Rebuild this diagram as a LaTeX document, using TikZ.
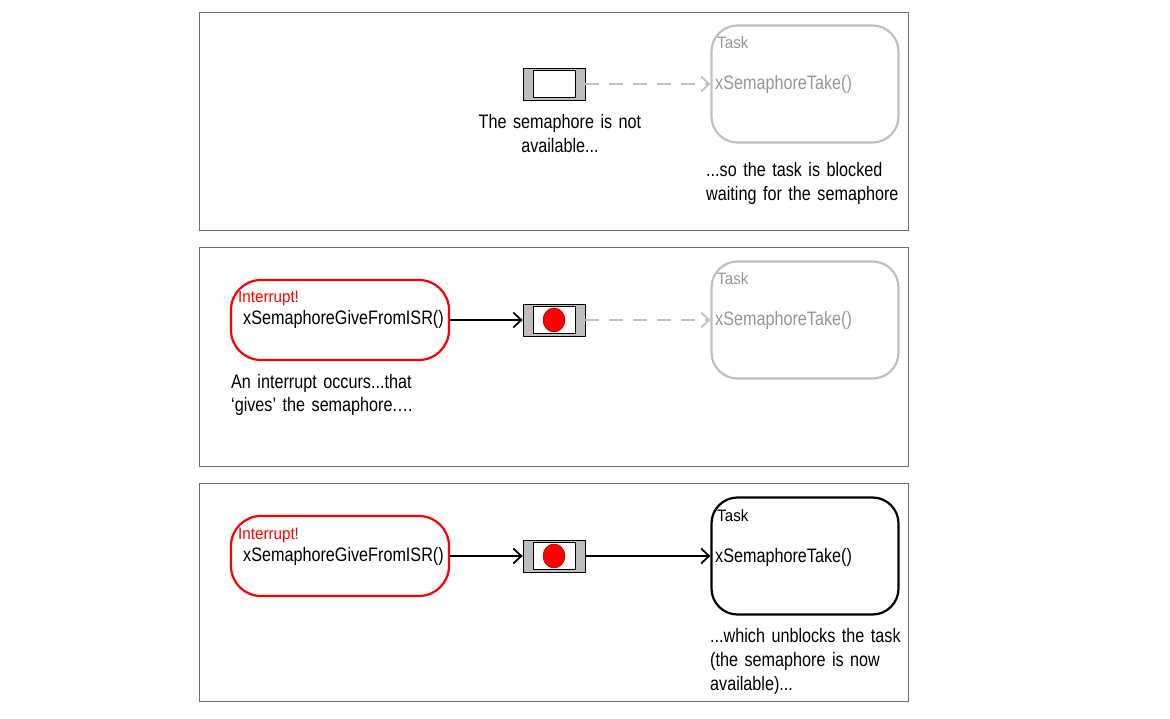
\documentclass[tikz,border=0pt]{standalone}
\usepackage{fontspec}
\setmainfont{Liberation Sans}
\newfontfamily\condfont[FakeStretch=0.83]{Liberation Sans}
\newfontfamily\smallcond[FakeStretch=0.92]{Liberation Sans}
\usetikzlibrary{arrows.meta,shapes.geometric}
\definecolor{lgray}{RGB}{192,192,192}
\definecolor{tgray}{RGB}{150,150,150}
\definecolor{semgray}{RGB}{190,190,190}
\definecolor{framegray}{RGB}{110,110,110}
\definecolor{ired}{RGB}{255,0,0}
\tikzset{
  panel/.style={draw=framegray,line width=0.9pt},
  semout/.style={draw=black,line width=0.8pt,fill=semgray,minimum width=62pt,minimum height=32pt,inner sep=0pt},
  semin/.style={draw=black,line width=0.8pt,fill=white,minimum width=42pt,minimum height=27pt,inner sep=0pt},
  token/.style={ellipse,draw=red!60!black,line width=0.5pt,fill=ired,minimum width=22pt,minimum height=24pt,inner sep=0pt},
  taskbox/.style={draw,rounded corners=26pt,line width=2.2pt,minimum width=187pt,minimum height=117pt,inner sep=0pt},
  isrbox/.style={draw=ired,rounded corners=30pt,line width=2.2pt,minimum width=218pt,minimum height=80pt,inner sep=0pt},
  body/.style={font=\condfont\fontsize{19.5}{24}\selectfont,inner sep=0pt,anchor=base west},
  small/.style={font=\smallcond\fontsize{16.5}{18}\selectfont,inner sep=0pt,anchor=base west},
  para/.style={font=\condfont\fontsize{19.5}{24}\selectfont,inner sep=0pt,anchor=base west,align=left,text width=230pt},
  solidarrow/.style={line width=1.8pt,-{Straight Barb[length=8pt,width=15pt,line width=1.8pt]}},
  dasharrow/.style={line width=1.8pt,lgray,dash pattern=on 14pt off 10pt,-{Straight Barb[length=8pt,width=15pt,line width=1.8pt]}},
}
\begin{document}
\begin{tikzpicture}[x=1pt,y=-1pt]
\useasboundingbox (0,0) rectangle (1170,719);
% panels
\draw[panel] (199,12) rectangle (908,230);
\draw[panel] (199,247) rectangle (908,466);
\draw[panel] (199,483) rectangle (908,701);

% ---------- panel 1
\node[semout] (s1) at (554,84) {};
\node[semin] (s1i) at (554,84) {};
\node[taskbox,draw=lgray] (t1) at (805,84) {};
\node[small,text=tgray] (t1a) at (717,49) {Task};
\node[body,text=tgray] (t1b) at (715,90) {xSemaphoreTake()};
\draw[dasharrow] (s1.east) -- (t1.west);
\node[para,align=center,anchor=base] (c1) at (560,129) {The semaphore is not\\available...};
\node[para] (c2) at (706,177) {...so the task is blocked\\waiting for the semaphore};

% ---------- panel 2
\node[isrbox] (i2) at (340,320) {};
\node[small,text=ired] (i2a) at (238,303) {Interrupt!};
\node[body] (i2b) at (243,325) {xSemaphoreGiveFromISR()};
\node[semout] (s2) at (554,320) {};
\node[semin] (s2i) at (554,320) {};
\node[token] (e2) at (554,320) {};
\node[taskbox,draw=lgray] (t2) at (805,320) {};
\node[small,text=tgray] (t2a) at (717,285) {Task};
\node[body,text=tgray] (t2b) at (715,326) {xSemaphoreTake()};
\draw[solidarrow] (i2.east) -- (s2.west);
\draw[dasharrow] (s2.east) -- (t2.west);
\node[para] (c3) at (231,388) {An interrupt occurs...that\\‘gives’ the semaphore.…};

% ---------- panel 3
\node[isrbox] (i3) at (340,556) {};
\node[small,text=ired] (i3a) at (238,539) {Interrupt!};
\node[body] (i3b) at (243,561) {xSemaphoreGiveFromISR()};
\node[semout] (s3) at (554,556) {};
\node[semin] (s3i) at (554,556) {};
\node[token] (e3) at (554,556) {};
\node[taskbox] (t3) at (805,556) {};
\node[small] (t3a) at (717,521) {Task};
\node[body] (t3b) at (715,562) {xSemaphoreTake()};
\draw[solidarrow] (i3.east) -- (s3.west);
\draw[solidarrow] (s3.east) -- (t3.west);
\node[para] (c4) at (710,642) {...which unblocks the task\\(the semaphore is now\\available)...};
\end{tikzpicture}
\end{document}
